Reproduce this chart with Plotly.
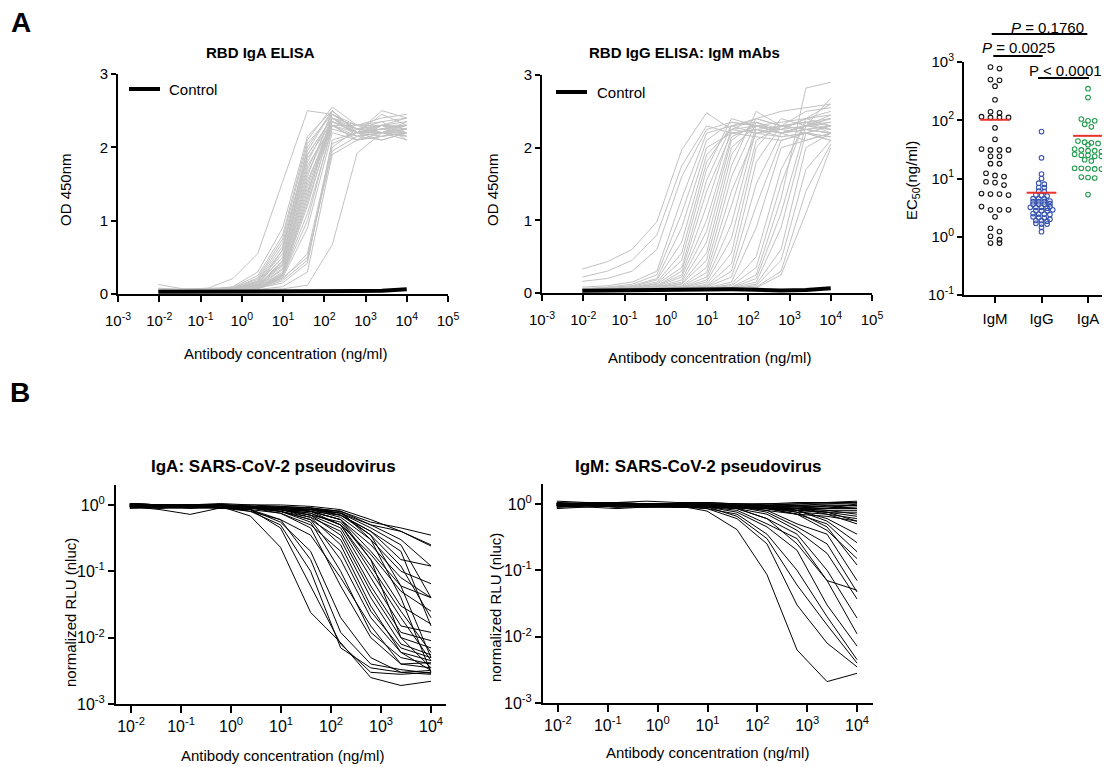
import numpy as np
import plotly.graph_objects as go

# The page places the figure 8px in from the top-left corner, so the figure is
# built 8px smaller and every layout position is given in page pixels minus 8.
PAGE_W, PAGE_H, OFF = 1110, 767, 8
W, H = PAGE_W - OFF, PAGE_H - OFF
FONT = "Liberation Sans, Arial, Helvetica, sans-serif"

# ---------------- data ----------------
conc = [0.0095, 0.038, 0.153, 0.61, 2.44, 9.77, 39.1, 156, 625, 2500, 10000]

# Panel A left: RBD IgA ELISA (OD 450nm)
iga_elisa = [
    [0.05, 0.06, 0.08, 0.21, 0.55, 1.53, 2.50, 2.45, 2.25, 2.30, 2.25],
    [0.06, 0.05, 0.06, 0.10, 0.30, 0.90, 2.15, 2.50, 2.20, 2.25, 2.30],
    [0.05, 0.06, 0.07, 0.09, 0.25, 0.80, 2.10, 2.55, 2.30, 2.30, 2.40],
    [0.08, 0.06, 0.07, 0.08, 0.22, 0.75, 2.05, 2.45, 2.25, 2.20, 2.35],
    [0.05, 0.05, 0.06, 0.08, 0.20, 0.70, 1.95, 2.50, 2.20, 2.25, 2.20],
    [0.13, 0.07, 0.06, 0.07, 0.18, 0.65, 1.90, 2.40, 2.15, 2.30, 2.25],
    [0.04, 0.05, 0.05, 0.07, 0.17, 0.60, 1.85, 2.35, 2.20, 2.20, 2.30],
    [0.05, 0.04, 0.06, 0.07, 0.16, 0.55, 1.80, 2.45, 2.30, 2.35, 2.40],
    [0.06, 0.06, 0.05, 0.06, 0.15, 0.50, 1.75, 2.30, 2.10, 2.15, 2.20],
    [0.04, 0.05, 0.06, 0.06, 0.14, 0.50, 1.70, 2.40, 2.20, 2.30, 2.10],
    [0.05, 0.05, 0.05, 0.06, 0.13, 0.45, 1.65, 2.35, 2.25, 2.20, 2.25],
    [0.07, 0.06, 0.06, 0.07, 0.12, 0.42, 1.60, 2.50, 2.20, 2.25, 2.30],
    [0.05, 0.05, 0.05, 0.06, 0.12, 0.40, 1.55, 2.30, 2.15, 2.10, 2.20],
    [0.04, 0.04, 0.05, 0.06, 0.11, 0.38, 1.50, 2.40, 2.30, 2.40, 2.45],
    [0.05, 0.05, 0.06, 0.06, 0.10, 0.35, 1.45, 2.35, 2.20, 2.20, 2.15],
    [0.06, 0.05, 0.05, 0.06, 0.10, 0.33, 1.40, 2.30, 2.10, 2.15, 2.25],
    [0.04, 0.05, 0.05, 0.05, 0.09, 0.30, 1.35, 2.45, 2.25, 2.30, 2.20],
    [0.05, 0.04, 0.05, 0.06, 0.09, 0.28, 1.30, 2.40, 2.20, 2.25, 2.30],
    [0.05, 0.05, 0.06, 0.06, 0.08, 0.27, 1.25, 2.30, 2.30, 2.20, 2.25],
    [0.04, 0.05, 0.05, 0.05, 0.08, 0.26, 1.20, 2.35, 2.20, 2.10, 2.20],
    [0.05, 0.05, 0.05, 0.06, 0.08, 0.25, 1.10, 2.25, 2.15, 2.20, 2.10],
    [0.06, 0.06, 0.05, 0.06, 0.07, 0.24, 1.00, 2.30, 2.20, 2.50, 2.40],
    [0.05, 0.04, 0.05, 0.05, 0.07, 0.22, 0.90, 2.20, 2.10, 2.30, 2.35],
    [0.05, 0.05, 0.05, 0.06, 0.10, 0.45, 1.90, 2.40, 2.25, 2.35, 2.15],
    [0.04, 0.05, 0.05, 0.06, 0.12, 0.60, 2.00, 2.50, 2.20, 2.30, 2.25],
    [0.04, 0.05, 0.05, 0.06, 0.08, 0.20, 0.55, 2.05, 2.20, 2.15, 2.20],
    [0.05, 0.05, 0.06, 0.06, 0.09, 0.22, 0.50, 1.95, 2.15, 2.20, 2.25],
    [0.04, 0.04, 0.05, 0.06, 0.07, 0.18, 0.46, 2.00, 2.25, 2.30, 2.30],
    [0.05, 0.05, 0.05, 0.06, 0.08, 0.15, 0.42, 2.10, 2.20, 2.45, 2.30],
    [0.04, 0.05, 0.05, 0.05, 0.06, 0.10, 0.30, 1.90, 2.10, 2.20, 2.15],
    [0.04, 0.04, 0.05, 0.05, 0.06, 0.07, 0.12, 0.67, 1.92, 2.20, 2.20],
]
iga_control = [0.03, 0.03, 0.03, 0.03, 0.03, 0.03, 0.03, 0.035, 0.04, 0.045, 0.065]

# Panel A middle: RBD IgG ELISA of IgM mAbs (OD 450nm)
igm_elisa = [
    [0.33, 0.43, 0.60, 0.98, 1.97, 2.48, 2.25, 2.30, 2.35, 2.40, 2.45],
    [0.22, 0.30, 0.45, 0.80, 1.75, 2.30, 2.20, 2.25, 2.30, 2.25, 2.20],
    [0.16, 0.20, 0.30, 0.60, 1.60, 2.25, 2.35, 2.30, 2.20, 2.30, 2.35],
    [0.08, 0.10, 0.15, 0.30, 1.30, 2.20, 2.30, 2.40, 2.50, 2.55, 2.60],
    [0.06, 0.08, 0.12, 0.25, 1.10, 2.10, 2.35, 2.30, 2.20, 2.30, 2.40],
    [0.05, 0.07, 0.10, 0.20, 0.90, 2.00, 2.20, 2.15, 2.10, 2.20, 2.15],
    [0.05, 0.06, 0.09, 0.18, 0.70, 1.90, 2.25, 2.20, 2.30, 2.25, 2.30],
    [0.04, 0.06, 0.08, 0.15, 0.55, 1.80, 2.30, 2.35, 2.25, 2.40, 2.50],
    [0.04, 0.05, 0.07, 0.13, 0.45, 1.70, 2.40, 2.30, 2.20, 2.10, 2.20],
    [0.04, 0.05, 0.07, 0.12, 0.35, 1.55, 2.30, 2.20, 2.25, 2.30, 2.25],
    [0.04, 0.05, 0.06, 0.10, 0.30, 1.40, 2.20, 2.25, 2.15, 2.20, 2.10],
    [0.04, 0.05, 0.06, 0.10, 0.25, 1.20, 2.25, 2.40, 2.30, 2.35, 2.30],
    [0.03, 0.04, 0.06, 0.09, 0.22, 1.00, 2.15, 2.30, 2.20, 2.25, 2.20],
    [0.03, 0.04, 0.05, 0.08, 0.18, 0.85, 2.10, 2.35, 2.20, 2.30, 2.40],
    [0.03, 0.04, 0.05, 0.08, 0.15, 0.70, 2.00, 2.30, 2.25, 2.20, 2.30],
    [0.03, 0.04, 0.05, 0.07, 0.13, 0.55, 1.90, 2.40, 2.30, 2.35, 2.25],
    [0.03, 0.04, 0.05, 0.07, 0.12, 0.45, 1.75, 2.50, 2.30, 2.25, 2.20],
    [0.03, 0.04, 0.05, 0.06, 0.10, 0.35, 1.60, 2.35, 2.20, 2.30, 2.35],
    [0.03, 0.04, 0.05, 0.06, 0.09, 0.28, 1.40, 2.20, 2.15, 2.20, 2.10],
    [0.03, 0.04, 0.04, 0.06, 0.08, 0.22, 1.20, 2.30, 2.25, 2.40, 2.30],
    [0.03, 0.03, 0.04, 0.05, 0.07, 0.18, 0.95, 2.25, 2.20, 2.30, 2.25],
    [0.03, 0.03, 0.04, 0.05, 0.07, 0.15, 0.75, 2.10, 2.30, 2.35, 2.20],
    [0.03, 0.03, 0.04, 0.05, 0.06, 0.12, 0.55, 2.00, 2.40, 2.30, 2.45],
    [0.03, 0.03, 0.04, 0.05, 0.06, 0.10, 0.40, 1.80, 2.30, 2.50, 2.55],
    [0.03, 0.03, 0.04, 0.05, 0.06, 0.09, 0.30, 1.50, 2.20, 2.25, 2.30],
    [0.03, 0.03, 0.04, 0.04, 0.05, 0.08, 0.22, 1.20, 2.10, 2.20, 2.15],
    [0.03, 0.03, 0.04, 0.04, 0.05, 0.07, 0.15, 0.90, 2.00, 2.10, 2.20],
    [0.03, 0.03, 0.03, 0.04, 0.05, 0.06, 0.12, 0.50, 1.70, 2.35, 2.40],
    [0.03, 0.03, 0.03, 0.04, 0.05, 0.06, 0.10, 0.35, 1.50, 2.40, 2.60],
    [0.03, 0.03, 0.03, 0.04, 0.04, 0.05, 0.08, 0.25, 1.30, 2.82, 2.90],
    [0.03, 0.03, 0.03, 0.04, 0.04, 0.05, 0.07, 0.20, 1.10, 2.30, 2.68],
    [0.03, 0.03, 0.03, 0.04, 0.04, 0.05, 0.07, 0.15, 0.90, 2.20, 2.30],
    [0.03, 0.03, 0.03, 0.04, 0.04, 0.05, 0.06, 0.12, 0.60, 2.00, 2.20],
    [0.03, 0.03, 0.03, 0.03, 0.04, 0.05, 0.06, 0.10, 0.45, 1.70, 2.10],
    [0.03, 0.03, 0.03, 0.03, 0.04, 0.04, 0.05, 0.08, 0.30, 1.40, 2.05],
    [0.03, 0.03, 0.03, 0.03, 0.04, 0.04, 0.05, 0.07, 0.25, 1.10, 2.00],
]
igm_control = [0.03, 0.03, 0.035, 0.04, 0.045, 0.05, 0.05, 0.045, 0.035, 0.04, 0.065]

# Panel A right: EC50 (ng/ml)
ec50_categories = ["IgM", "IgG", "IgA"]
ec50_igm = [820, 770, 500, 485, 385, 225, 134, 140, 112, 112, 112, 115, 74, 47,
            31, 31, 31, 32, 24, 24, 18, 18, 11.3, 10.8, 12.3, 8.5, 8.8, 7.7,
            5.4, 5.2, 5.4, 5.5, 2.9, 3.3, 2.9, 2.9, 2.2, 1.4, 1.23, 1.02, 0.89, 0.78, 0.78]
ec50_igg = [64, 22.6, 11.9, 10, 8.3, 8.0, 7.0, 7.0, 6.1, 6.0, 5.2, 5.1, 5.0, 4.5, 4.5,
            4.5, 4.0, 4.0, 4.0, 4.1, 3.6, 3.6, 3.6, 3.7, 3.2, 3.2, 3.3, 3.2, 3.1, 2.8,
            2.8, 2.9, 2.8, 2.45, 2.45, 2.5, 2.4, 2.15, 2.2, 2.1, 1.9, 1.9, 2.0, 1.85,
            1.65, 1.7, 1.65, 1.45, 1.22]
ec50_iga = [348, 245, 98, 98, 105, 77, 85, 38, 40, 42, 44, 41, 30, 31, 30, 32, 29,
            25, 24, 26, 25, 24, 21, 20, 15, 14.5, 15, 14.8, 14.6, 10.4, 10.2, 10.6, 5.3]
ec50_means = [102, 5.7, 54]
pvalue_labels = ["<i>P</i> = 0.1760", "<i>P</i> = 0.0025", "P < 0.0001"]

# Panel B left: IgA neutralization (normalized RLU)
iga_neut = [
    [0.95, 0.90, 0.95, 0.95, 0.68, 0.23, 0.024, 0.0084, 0.0025, 0.0019, 0.0022],
    [1.00, 0.95, 0.95, 0.90, 0.85, 0.45, 0.060, 0.0080, 0.0030, 0.0028, 0.0030],
    [0.95, 0.95, 1.00, 0.95, 0.80, 0.50, 0.100, 0.0070, 0.0035, 0.0030, 0.0032],
    [1.00, 1.00, 0.95, 0.95, 0.85, 0.60, 0.150, 0.0120, 0.0040, 0.0033, 0.0029],
    [0.90, 0.95, 0.90, 0.90, 0.85, 0.55, 0.200, 0.0200, 0.0050, 0.0030, 0.0028],
    [1.00, 0.95, 0.95, 1.00, 0.90, 0.75, 0.450, 0.0600, 0.0100, 0.0040, 0.0035],
    [0.95, 1.00, 1.00, 0.95, 0.90, 0.80, 0.550, 0.1000, 0.0120, 0.0050, 0.0040],
    [1.05, 1.00, 0.95, 0.95, 0.90, 0.80, 0.600, 0.1500, 0.0200, 0.0060, 0.0045],
    [0.90, 0.90, 0.95, 0.90, 0.85, 0.75, 0.500, 0.2000, 0.0250, 0.0070, 0.0050],
    [1.00, 0.95, 0.95, 0.95, 0.90, 0.85, 0.650, 0.2500, 0.0300, 0.0060, 0.0032],
    [0.95, 0.95, 1.00, 1.00, 0.95, 0.80, 0.600, 0.3000, 0.0400, 0.0080, 0.0055],
    [1.00, 1.00, 0.95, 0.95, 0.90, 0.85, 0.700, 0.3500, 0.0500, 0.0100, 0.0070],
    [0.95, 0.90, 0.90, 0.95, 0.90, 0.80, 0.650, 0.4000, 0.0600, 0.0120, 0.0090],
    [1.05, 1.00, 1.00, 0.95, 0.95, 0.85, 0.700, 0.4500, 0.0800, 0.0150, 0.0120],
    [0.90, 0.95, 0.95, 0.90, 0.90, 0.85, 0.750, 0.5000, 0.1000, 0.0200, 0.0045],
    [1.00, 1.00, 1.00, 1.00, 0.95, 0.90, 0.800, 0.5000, 0.1200, 0.0250, 0.0060],
    [0.95, 0.95, 0.90, 0.95, 0.90, 0.85, 0.700, 0.5500, 0.1500, 0.0300, 0.0160],
    [1.00, 0.95, 0.95, 0.95, 0.90, 0.85, 0.750, 0.5000, 0.1800, 0.0500, 0.0250],
    [1.05, 1.00, 1.00, 1.00, 0.95, 0.90, 0.800, 0.6000, 0.2000, 0.0600, 0.0400],
    [0.95, 0.95, 0.95, 0.95, 0.90, 0.90, 0.800, 0.6000, 0.2500, 0.0800, 0.0400],
    [1.00, 1.00, 0.95, 0.95, 0.95, 0.90, 0.850, 0.6500, 0.3000, 0.1000, 0.0650],
    [0.90, 0.90, 0.90, 0.90, 0.90, 0.85, 0.800, 0.7000, 0.3500, 0.1200, 0.0200],
    [1.00, 1.00, 1.00, 0.95, 0.95, 0.90, 0.850, 0.7000, 0.4000, 0.1500, 0.1200],
    [1.00, 0.95, 0.95, 1.00, 0.95, 0.95, 0.900, 0.7500, 0.5000, 0.4000, 0.2500],
    [0.95, 0.95, 0.90, 0.95, 0.95, 0.90, 0.850, 0.8000, 0.5500, 0.4500, 0.3500],
    [1.00, 1.00, 1.00, 1.00, 1.00, 1.00, 0.950, 0.8500, 0.6000, 0.4000, 0.2400],
    [1.05, 1.00, 1.00, 1.05, 1.00, 0.95, 0.900, 0.8000, 0.5000, 0.3000, 0.1200],
    [0.95, 0.95, 0.95, 0.90, 0.95, 0.90, 0.850, 0.7500, 0.4500, 0.2500, 0.0400],
    [1.00, 1.00, 1.00, 0.95, 0.95, 0.90, 0.900, 0.7000, 0.4000, 0.2000, 0.0150],
    [0.95, 0.90, 0.95, 0.95, 0.90, 0.90, 0.850, 0.7500, 0.3500, 0.0600, 0.0050],
    [1.00, 1.00, 0.95, 1.00, 0.95, 0.90, 0.900, 0.8000, 0.3000, 0.0400, 0.0030],
    [1.00, 0.95, 0.95, 0.95, 0.90, 0.85, 0.800, 0.6000, 0.1500, 0.0100, 0.0035],
    [0.95, 0.85, 0.72, 0.90, 0.80, 0.60, 0.350, 0.0800, 0.0150, 0.0040, 0.0042],
]

# Panel B right: IgM neutralization (normalized RLU)
igm_neut = [
    [1.00, 1.00, 1.05, 1.00, 1.00, 1.05, 1.00, 1.00, 1.05, 1.05, 1.10],
    [0.95, 1.00, 1.00, 0.95, 1.00, 1.00, 1.00, 0.95, 1.00, 1.00, 1.05],
    [1.05, 1.00, 1.00, 1.00, 0.95, 1.00, 0.95, 1.00, 0.95, 1.00, 1.00],
    [0.90, 0.95, 0.90, 0.95, 0.90, 0.95, 0.95, 0.90, 0.95, 0.90, 0.95],
    [1.00, 0.95, 0.95, 1.00, 1.00, 0.95, 0.90, 0.90, 0.90, 0.85, 0.90],
    [0.85, 0.90, 0.85, 0.90, 0.90, 0.90, 0.90, 0.85, 0.85, 0.85, 0.85],
    [1.00, 1.05, 1.00, 1.00, 0.95, 0.95, 0.95, 0.90, 0.85, 0.80, 0.80],
    [0.95, 0.90, 0.95, 0.90, 0.95, 0.90, 0.90, 0.85, 0.80, 0.75, 0.75],
    [1.05, 1.00, 1.05, 1.00, 1.00, 1.00, 0.95, 0.90, 0.85, 0.80, 0.70],
    [0.90, 0.95, 0.90, 0.90, 0.90, 0.90, 0.85, 0.85, 0.80, 0.75, 0.65],
    [1.00, 1.00, 0.95, 0.95, 1.00, 0.95, 0.90, 0.85, 0.75, 0.70, 0.60],
    [0.95, 0.95, 1.00, 0.95, 0.95, 0.95, 0.90, 0.80, 0.70, 0.65, 0.55],
    [1.00, 0.95, 0.95, 1.00, 0.95, 0.95, 0.95, 0.90, 0.90, 0.85, 1.00],
    [1.10, 1.05, 1.05, 1.10, 1.05, 1.05, 1.00, 1.00, 1.00, 1.05, 1.05],
    [0.90, 0.90, 0.95, 0.90, 0.90, 0.95, 0.95, 0.95, 0.90, 0.95, 0.95],
    [1.00, 1.00, 1.00, 1.00, 1.00, 1.00, 1.00, 0.95, 0.95, 0.90, 0.85],
    [0.95, 1.00, 0.95, 0.95, 0.90, 0.95, 0.90, 0.90, 0.85, 0.75, 0.55],
    [1.00, 0.95, 1.00, 1.00, 0.95, 0.95, 0.95, 0.90, 0.85, 0.70, 0.50],
    [1.00, 0.95, 1.00, 0.95, 0.95, 0.78, 0.41, 0.086, 0.0063, 0.0021, 0.0028],
    [0.95, 0.95, 0.95, 1.00, 0.95, 0.85, 0.60, 0.25, 0.030, 0.0080, 0.0035],
    [1.00, 1.00, 0.95, 0.95, 0.95, 0.90, 0.65, 0.30, 0.060, 0.0150, 0.0040],
    [0.90, 0.95, 0.90, 0.90, 0.90, 0.85, 0.70, 0.35, 0.100, 0.0200, 0.0045],
    [1.00, 1.00, 1.00, 0.95, 1.00, 0.90, 0.75, 0.45, 0.200, 0.0300, 0.0072],
    [0.95, 0.95, 0.95, 0.95, 0.90, 0.90, 0.80, 0.50, 0.300, 0.0700, 0.0110],
    [1.00, 1.00, 1.00, 1.00, 0.95, 0.95, 0.85, 0.60, 0.350, 0.1000, 0.0190],
    [0.95, 0.95, 0.90, 0.95, 0.95, 0.90, 0.85, 0.70, 0.400, 0.1800, 0.0370],
    [1.00, 1.00, 1.00, 1.00, 1.00, 0.95, 0.90, 0.75, 0.450, 0.2500, 0.0470],
    [0.95, 1.00, 0.95, 0.95, 0.95, 0.95, 0.90, 0.80, 0.500, 0.3500, 0.0700],
    [1.00, 0.95, 0.95, 1.00, 0.95, 0.95, 0.85, 0.60, 0.250, 0.0700, 0.0500],
    [0.95, 0.95, 1.00, 0.95, 0.95, 0.95, 0.90, 0.85, 0.700, 0.4000, 0.1500],
    [1.00, 1.00, 0.95, 1.00, 0.95, 0.95, 0.90, 0.85, 0.700, 0.5000, 0.1900],
    [0.95, 0.95, 0.95, 0.95, 0.95, 0.95, 0.95, 0.90, 0.800, 0.5500, 0.2600],
    [1.00, 1.00, 1.00, 1.00, 1.00, 0.95, 0.95, 0.90, 0.800, 0.6000, 0.3500],
    [0.95, 1.00, 0.95, 0.95, 0.95, 0.95, 0.90, 0.90, 0.750, 0.4500, 0.1200],
]

# ---------------- helpers ----------------
def px(xp):
    """page pixel x -> paper fraction"""
    return (xp - OFF) / W

def py(yp):
    """page pixel y -> paper fraction"""
    return 1 - (yp - OFF) / H

fig = go.Figure()

def add_curves(curves, xa, ya, color, width):
    xs, ys = [], []
    for c in curves:
        xs += list(conc) + [None]
        ys += list(c) + [None]
    fig.add_trace(go.Scatter(x=xs, y=ys, mode="lines", xaxis=xa, yaxis=ya,
                             line=dict(color=color, width=width),
                             showlegend=False, hoverinfo="skip"))

GRAY = "#c2c2c2"
add_curves(iga_elisa, "x", "y", GRAY, 1)
add_curves([iga_control], "x", "y", "black", 4)
add_curves(igm_elisa, "x2", "y2", GRAY, 1)
add_curves([igm_control], "x2", "y2", "black", 4)
add_curves(iga_neut, "x4", "y4", "black", 1)
add_curves(igm_neut, "x5", "y5", "black", 1)

# EC50 column scatter (beeswarm-like spreading, computed from values)
PX_PER_CAT = 46.5

def swarm(vals, center, step_px, bin_dec):
    logs = np.log10(np.asarray(vals, dtype=float))
    order = np.argsort(-logs, kind="stable")
    xs = np.zeros(len(vals))
    rows, cur, top = [], [], None
    for i in order:
        if top is None or top - logs[i] > bin_dec:
            if cur:
                rows.append(cur)
            cur, top = [i], logs[i]
        else:
            cur.append(i)
    if cur:
        rows.append(cur)
    for r in rows:
        n = len(r)
        for k, i in enumerate(r):
            xs[i] = center + (k - (n - 1) / 2) * step_px / PX_PER_CAT
    return xs

groups = [
    (ec50_igm, 1, "#111111", 9.0, 0.06),
    (ec50_igg, 2, "#3552b0", 5.6, 0.045),
    (ec50_iga, 3, "#1f9a4b", 6.7, 0.06),
]
for vals, cx, col, step, bd in groups:
    fig.add_trace(go.Scatter(
        x=swarm(vals, cx, step, bd), y=vals, mode="markers", xaxis="x3", yaxis="y3",
        marker=dict(symbol="circle-open", size=4.6, color=col, line=dict(width=1.1, color=col)),
        showlegend=False, hoverinfo="skip"))

for k, m in enumerate(ec50_means):
    cx = k + 1
    fig.add_trace(go.Scatter(x=[cx - 0.32, cx + 0.32], y=[m, m], mode="lines",
                             xaxis="x3", yaxis="y3", line=dict(color="#e8332a", width=2),
                             showlegend=False, hoverinfo="skip"))

# ---------------- axes ----------------
def sup_labels(exps):
    return ["10<sup>%d</sup>" % e for e in exps]

base = dict(showline=True, linecolor="black", linewidth=2, ticks="outside",
            ticklen=6, tickwidth=2, tickcolor="black", showgrid=False,
            zeroline=False, automargin=False,
            tickfont=dict(family=FONT, size=15, color="black"))

a_x_exps = list(range(-3, 6))
b_x_exps = list(range(-2, 5))
b_y_exps = list(range(-3, 1))
ec_exps = list(range(-1, 4))
BFONT = dict(family=FONT, size=16, color="black")

layout = dict(
    template="none",
    width=W, height=H, autosize=False, plot_bgcolor="white", paper_bgcolor="white",
    margin=dict(l=0, r=0, t=0, b=0, pad=0), showlegend=False,
    font=dict(family=FONT, color="black"),
    xaxis=dict(base, type="log", range=[-3, 5], domain=[px(118), px(448)], anchor="y",
               tickvals=[10.0 ** e for e in a_x_exps], ticktext=sup_labels(a_x_exps),
               ticklabelstandoff=6),
    yaxis=dict(base, range=[0, 3], domain=[py(294), py(74)], anchor="x", ticklen=5,
               tickvals=[0, 1, 2, 3], ticktext=["0", "1", "2", "3"]),
    xaxis2=dict(base, type="log", range=[-3, 5], domain=[px(542), px(872)], anchor="y2",
                tickvals=[10.0 ** e for e in a_x_exps], ticktext=sup_labels(a_x_exps),
                ticklabelstandoff=6),
    yaxis2=dict(base, range=[0, 3], domain=[py(293), py(75)], anchor="x2", ticklen=5,
                tickvals=[0, 1, 2, 3], ticktext=["0", "1", "2", "3"]),
    xaxis3=dict(base, range=[0.333, 3.473], domain=[px(964), 1.0], anchor="y3",
                tickvals=[1, 2, 3], ticktext=ec50_categories, ticklabelstandoff=3),
    yaxis3=dict(base, type="log", range=[-1, 3], domain=[py(295), py(62)], anchor="x3",
                ticklen=5, tickvals=[10.0 ** e for e in ec_exps], ticktext=sup_labels(ec_exps)),
    xaxis4=dict(base, type="log", range=[-2.3, 4.3], domain=[px(116), px(446)], anchor="y4",
                tickvals=[10.0 ** e for e in b_x_exps], ticktext=sup_labels(b_x_exps),
                tickfont=BFONT, ticklen=7),
    yaxis4=dict(base, type="log", range=[-3, 0.3], domain=[py(704), py(485)], anchor="x4",
                tickvals=[10.0 ** e for e in b_y_exps], ticktext=sup_labels(b_y_exps),
                tickfont=BFONT, ticklen=6),
    xaxis5=dict(base, type="log", range=[-2.3, 4.32], domain=[px(543), px(873)], anchor="y5",
                tickvals=[10.0 ** e for e in b_x_exps], ticktext=sup_labels(b_x_exps),
                tickfont=BFONT, ticklen=7),
    yaxis5=dict(base, type="log", range=[-3, 0.3], domain=[py(703), py(484)], anchor="x5",
                tickvals=[10.0 ** e for e in b_y_exps], ticktext=sup_labels(b_y_exps),
                tickfont=BFONT, ticklen=6),
)
fig.update_layout(**layout)

# ---------------- text ----------------
ann = []

def text(t, xp, yp, size=15, bold=False, angle=0, xanchor="center"):
    ann.append(dict(text=("<b>%s</b>" % t) if bold else t, x=px(xp), y=py(yp),
                    xref="paper", yref="paper", showarrow=False, textangle=angle,
                    xanchor=xanchor, yanchor="middle",
                    font=dict(family=FONT, size=size, color="black")))

text("A", 21, 22, size=28, bold=True)
text("B", 20, 392, size=28, bold=True)
text("RBD IgA ELISA", 260, 52, size=15, bold=True)
text("RBD IgG ELISA: IgM mAbs", 684, 53, size=15, bold=True)
text("IgA: SARS-CoV-2 pseudovirus", 273, 466, size=17, bold=True)
text("IgM: SARS-CoV-2 pseudovirus", 698, 466, size=17, bold=True)
text("Antibody concentration (ng/ml)", 285, 353)
text("Antibody concentration (ng/ml)", 709, 358)
text("Antibody concentration (ng/ml)", 282, 755)
text("Antibody concentration (ng/ml)", 707, 752)
text("OD 450nm", 65, 190, angle=-90)
text("OD 450nm", 492, 190, angle=-90)
text("EC<sub>50</sub>(ng/ml)", 913, 181, angle=-90)
text("normalized RLU (nluc)", 70, 613, angle=-90)
text("normalized RLU (nluc)", 495, 608, angle=-90)
text("Control", 167, 89, xanchor="left")
text("Control", 595, 92, xanchor="left")
text(pvalue_labels[0], 1047, 27)
text(pvalue_labels[1], 1018, 47)
text(pvalue_labels[2], 1065, 70)

shapes = []
# legend swatches
shapes.append(dict(type="line", xref="paper", yref="paper", x0=px(129), x1=px(160),
                   y0=py(89), y1=py(89), line=dict(color="black", width=4)))
shapes.append(dict(type="line", xref="paper", yref="paper", x0=px(556), x1=px(587),
                   y0=py(92), y1=py(92), line=dict(color="black", width=4)))
# comparison brackets (in category units)
for (c0, c1, yp) in [(0.93, 2.985, 34), (0.963, 2.026, 56), (1.925, 3.02, 78)]:
    shapes.append(dict(type="line", xref="x3", yref="paper", x0=c0, x1=c1,
                       y0=py(yp), y1=py(yp), line=dict(color="black", width=2)))

fig.update_layout(annotations=ann, shapes=shapes)
fig.write_html("out.html")
